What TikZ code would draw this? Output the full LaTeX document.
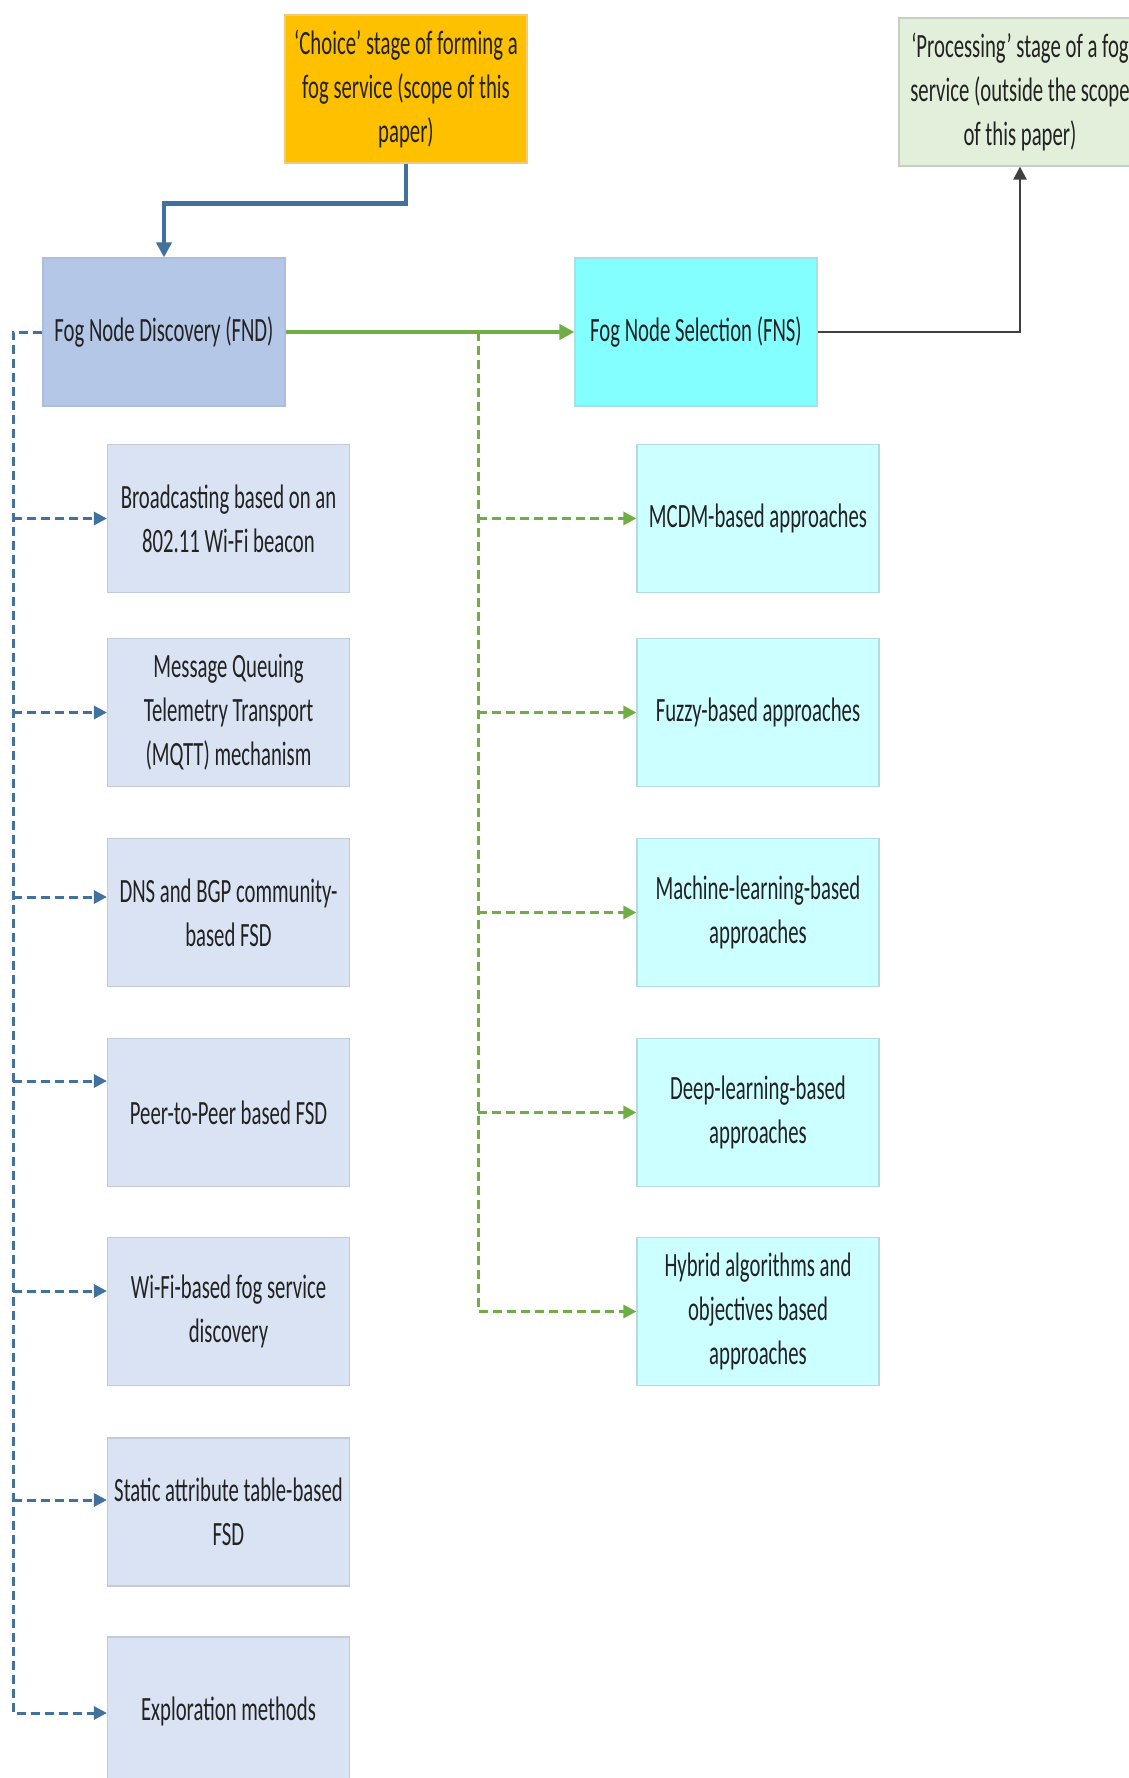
\documentclass[tikz,border=0pt]{standalone}
\usepackage{fontspec}
\setmainfont{Carlito}[FakeStretch=0.61]
\usetikzlibrary{arrows.meta}

\definecolor{txt}{HTML}{222222}
\definecolor{choicefill}{HTML}{FFC000}
\definecolor{choiceedge}{HTML}{F2C87A}
\definecolor{procfill}{HTML}{E2EFDA}
\definecolor{procedge}{HTML}{C8D0C4}
\definecolor{fndfill}{HTML}{B4C7E7}
\definecolor{fndedge}{HTML}{ADBEDD}
\definecolor{fnsfill}{HTML}{84FFFF}
\definecolor{fnsedge}{HTML}{A8E0E6}
\definecolor{leftfill}{HTML}{DAE3F3}
\definecolor{leftedge}{HTML}{C4CAD6}
\definecolor{rightfill}{HTML}{CCFFFF}
\definecolor{rightedge}{HTML}{B2DCE2}
\definecolor{linkblue}{HTML}{41719C}
\definecolor{linkgreen}{HTML}{70AD47}
\definecolor{linkgray}{HTML}{404040}

\tikzset{
  boxbase/.style={rectangle, minimum width=121pt, minimum height=74pt,
    inner sep=0pt, align=center, text=txt, line width=0.6pt,
    font=\fontsize{17}{22}\selectfont},
  choicebox/.style={boxbase, fill=choicefill, draw=choiceedge},
  procbox/.style={boxbase, fill=procfill, draw=procedge},
  fndbox/.style={boxbase, fill=fndfill, draw=fndedge},
  fnsbox/.style={boxbase, fill=fnsfill, draw=fnsedge},
  leftbox/.style={boxbase, fill=leftfill, draw=leftedge},
  rightbox/.style={boxbase, fill=rightfill, draw=rightedge},
  tiparrow/.style={-{Triangle[length=6.5pt,width=6.5pt]}},
  mainblue/.style={draw=linkblue, line width=2.4pt, -{Triangle[length=7.5pt,width=7.5pt]}},
  maingreen/.style={draw=linkgreen, line width=2.4pt, -{Triangle[length=7.5pt,width=7.5pt]}},
  maingray/.style={draw=linkgray, line width=1.2pt, tiparrow},
  bluedash/.style={draw=linkblue, line width=1.5pt, dash pattern=on 4.5pt off 2.5pt},
  greendash/.style={draw=linkgreen, line width=1.5pt, dash pattern=on 4.5pt off 2.5pt},
}

\begin{document}
\begin{tikzpicture}[x=0.5pt, y=-0.5pt]
\clip (0,0) rectangle (1129,1778);
\fill[white] (0,0) rectangle (1129,1778);

% stage boxes
\node[choicebox] (choice) at (406,89) {‘Choice’ stage of forming a\\fog service (scope of this\\paper)};
\node[procbox] (proc) at (1020,92) {‘Processing’ stage of a fog\\service (outside the scope\\of this paper)};
\node[fndbox] (fnd) at (164,332) {Fog Node Discovery (FND)};
\node[fnsbox] (fns) at (696,332) {Fog Node Selection (FNS)};

% discovery techniques
\node[leftbox] (L1) at (228.5,518.5) {Broadcasting based on an\\802.11 Wi-Fi beacon};
\node[leftbox] (L2) at (228.5,712.5) {Message Queuing\\Telemetry Transport\\(MQTT) mechanism};
\node[leftbox] (L3) at (228.5,912.5) {DNS and BGP community-\\based FSD};
\node[leftbox] (L4) at (228.5,1112.5) {Peer-to-Peer based FSD};
\node[leftbox] (L5) at (228.5,1311.5) {Wi-Fi-based fog service\\discovery};
\node[leftbox] (L6) at (228.5,1512) {Static attribute table-based\\FSD};
\node[leftbox] (L7) at (228.5,1711) {Exploration methods};

% selection techniques
\node[rightbox] (R1) at (758,518.5) {MCDM-based approaches};
\node[rightbox] (R2) at (758,712.5) {Fuzzy-based approaches};
\node[rightbox] (R3) at (758,912.5) {Machine-learning-based\\approaches};
\node[rightbox] (R4) at (758,1112.5) {Deep-learning-based\\approaches};
\node[rightbox] (R5) at (758,1311.5) {Hybrid algorithms and\\objectives based\\approaches};

% main flow
\draw[mainblue] (choice.south) -- ++(0,40) -| (fnd.north);
\draw[maingreen] (fnd.east) -- (fns.west);
\draw[maingray] (fns.east) -| (proc.south);

% discovery branches
\coordinate (lt) at (13,332);
\coordinate (a1) at (L1.west);
\coordinate (a2) at (L2.west);
\coordinate (a3) at ([yshift=7.75pt]L3.west);
\coordinate (a4) at ([yshift=15.75pt]L4.west);
\coordinate (a5) at ([yshift=10.25pt]L5.west);
\coordinate (a6) at ([yshift=6pt]L6.west);
\coordinate (a7) at ([yshift=-1pt]L7.west);
\draw[bluedash, tiparrow] (fnd.west) -- (lt) |- (a7);
\foreach \t in {a1,a2,a3,a4,a5,a6}
  \draw[bluedash, tiparrow] (lt |- \t) -- (\t);

% selection branches
\coordinate (rt) at (478,332);
\draw[greendash, tiparrow] (rt) |- (R5.west);
\foreach \t in {R1,R2,R3,R4}
  \draw[greendash, tiparrow] (rt |- \t.west) -- (\t.west);
\end{tikzpicture}
\end{document}
